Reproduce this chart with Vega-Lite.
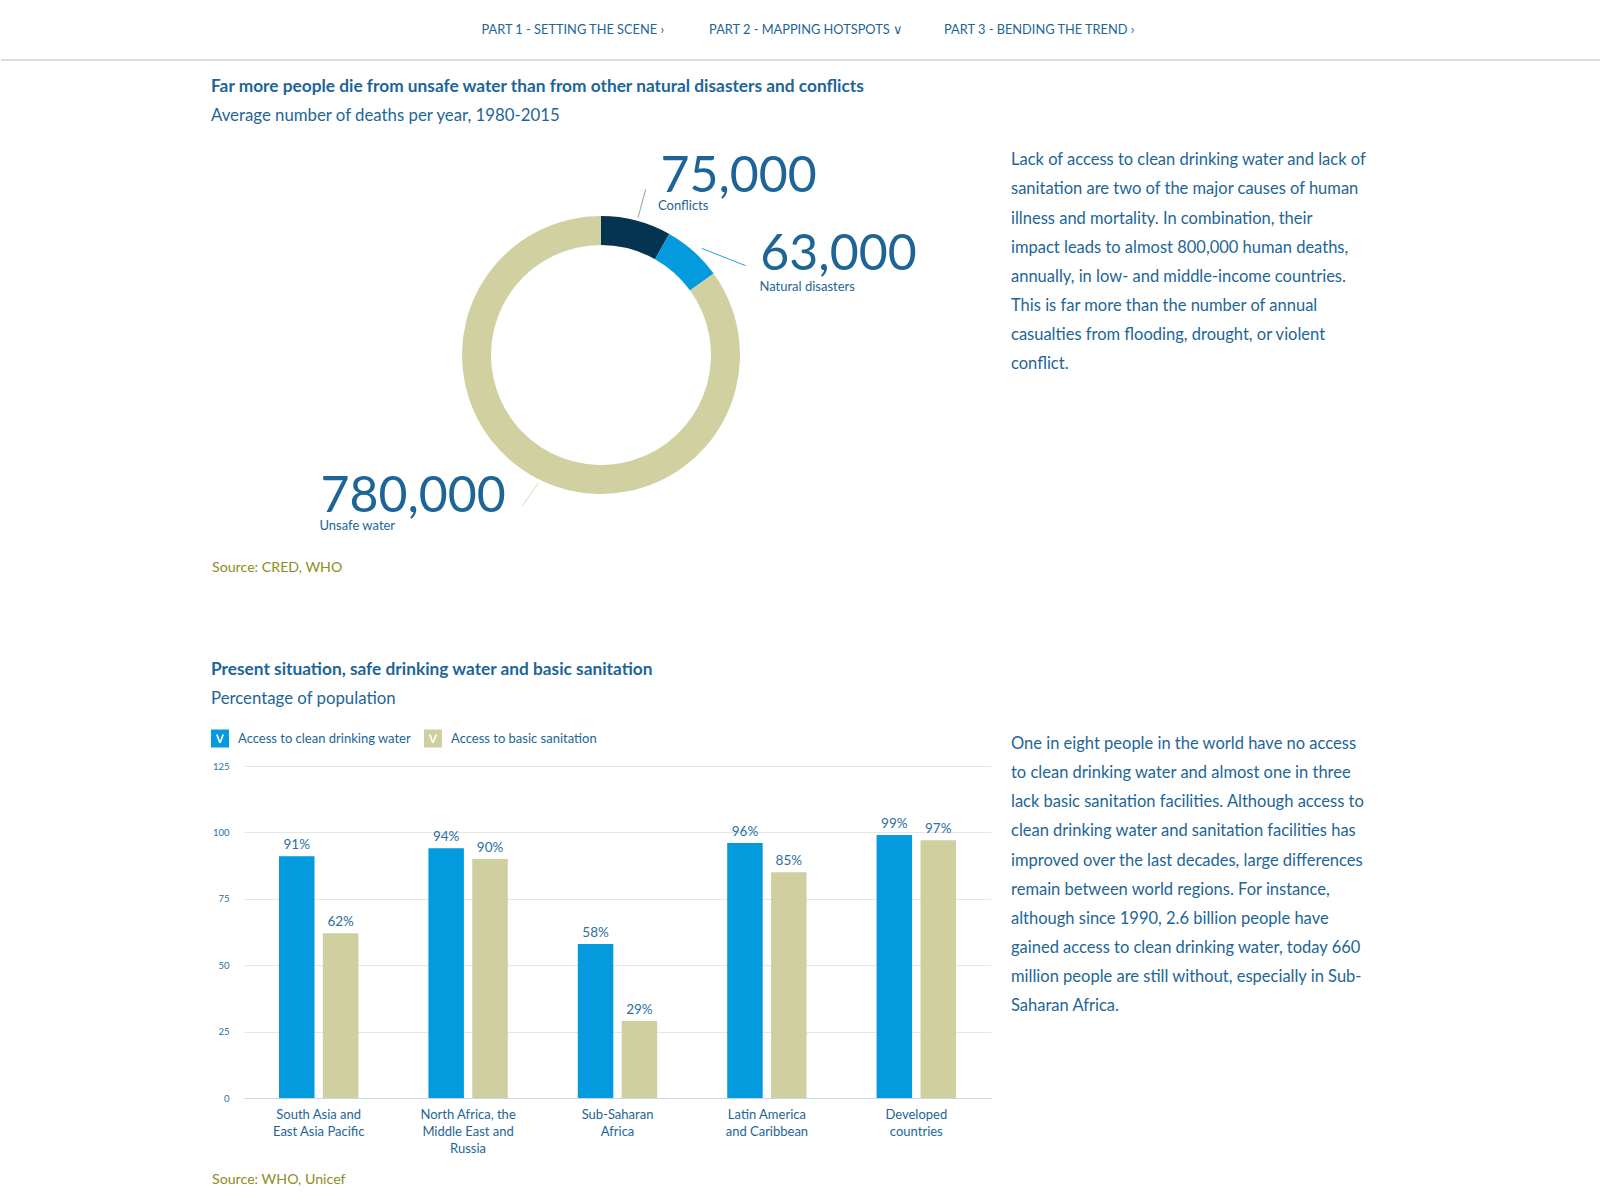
{
  "$schema": "https://vega.github.io/schema/vega-lite/v6.json",
  "background": "#ffffff",
  "padding": 0,
  "spacing": 16,
  "config": {
    "view": {"stroke": null},
    "font": "Lato",
    "axis": {"labelFont": "Lato"},
    "legend": {"labelFont": "Lato"},
    "title": {"font": "Lato", "subtitleFont": "Lato"}
  },
  "datasets": {
    "nav": [
      {"item": "PART 1 - SETTING THE SCENE  ›"},
      {"item": "PART 2 - MAPPING HOTSPOTS  ∨"},
      {"item": "PART 3 - BENDING THE TREND  ›"}
    ],
    "deaths": [
      {"cause": "Conflicts", "deaths": 75000},
      {"cause": "Natural disasters", "deaths": 63000},
      {"cause": "Unsafe water", "deaths": 780000}
    ],
    "access": [
      {"region": "South Asia and East Asia Pacific", "series": "Access to clean drinking water", "share": 0.91},
      {"region": "South Asia and East Asia Pacific", "series": "Access to basic sanitation", "share": 0.62},
      {"region": "North Africa, the Middle East and Russia", "series": "Access to clean drinking water", "share": 0.94},
      {"region": "North Africa, the Middle East and Russia", "series": "Access to basic sanitation", "share": 0.90},
      {"region": "Sub-Saharan Africa", "series": "Access to clean drinking water", "share": 0.58},
      {"region": "Sub-Saharan Africa", "series": "Access to basic sanitation", "share": 0.29},
      {"region": "Latin America and Caribbean", "series": "Access to clean drinking water", "share": 0.96},
      {"region": "Latin America and Caribbean", "series": "Access to basic sanitation", "share": 0.85},
      {"region": "Developed countries", "series": "Access to clean drinking water", "share": 0.99},
      {"region": "Developed countries", "series": "Access to basic sanitation", "share": 0.97}
    ],
    "para": [
      {"line": 0, "text": "Lack of access to clean drinking water and lack of"},
      {"line": 1, "text": "sanitation are two of the major causes of human"},
      {"line": 2, "text": "illness and mortality. In combination, their"},
      {"line": 3, "text": "impact leads to almost 800,000 human deaths,"},
      {"line": 4, "text": "annually, in low- and middle-income countries."},
      {"line": 5, "text": "This is far more than the number of annual"},
      {"line": 6, "text": "casualties from flooding, drought, or violent"},
      {"line": 7, "text": "conflict."},
      {"line": 20, "text": "One in eight people in the world have no access"},
      {"line": 21, "text": "to clean drinking water and almost one in three"},
      {"line": 22, "text": "lack basic sanitation facilities. Although access to"},
      {"line": 23, "text": "clean drinking water and sanitation facilities has"},
      {"line": 24, "text": "improved over the last decades, large differences"},
      {"line": 25, "text": "remain between world regions. For instance,"},
      {"line": 26, "text": "although since 1990, 2.6 billion people have"},
      {"line": 27, "text": "gained access to clean drinking water, today 660"},
      {"line": 28, "text": "million people are still without, especially in Sub-"},
      {"line": 29, "text": "Saharan Africa."}
    ]
  },
  "vconcat": [
    {
      "width": 1600,
      "height": 60,
      "data": {"name": "nav"},
      "layer": [
        {
          "mark": {"type": "text", "fontSize": 12.8, "color": "#1d6597", "baseline": "middle", "align": "center", "dx": 5},
          "encoding": {
            "x": {"field": "item", "type": "nominal", "sort": null, "scale": {"type": "point", "padding": 0.43, "domain": ["_a", "_b", "PART 1 - SETTING THE SCENE  ›", "PART 2 - MAPPING HOTSPOTS  ∨", "PART 3 - BENDING THE TREND  ›", "_c", "_d"]}, "axis": null},
            "text": {"field": "item"}
          }
        },
        {
          "mark": {"type": "rule", "color": "#dddddd", "strokeWidth": 2},
          "encoding": {"y": {"value": "height"}}
        }
      ]
    },
    {
      "hconcat": [
        {"width": 210, "height": 10, "data": {"values": []}, "mark": "point"},
        {
          "resolve": {"scale": {"color": "independent", "theta": "independent"}, "legend": {"color": "independent"}},
          "vconcat": [
            {
              "width": 714,
              "height": 410,
              "title": {
                "text": "Far more people die from unsafe water than from other natural disasters and conflicts",
                "subtitle": "Average number of deaths per year, 1980-2015",
                "anchor": "start",
                "frame": "group",
                "dx": -33,
                "fontSize": 17.3,
                "fontWeight": "bold",
                "color": "#1d6597",
                "subtitleFontSize": 16.8,
                "subtitleColor": "#1d6597",
                "subtitlePadding": 13,
                "offset": 25
              },
              "data": {"name": "deaths"},
              "encoding": {
                "theta": {"field": "deaths", "type": "quantitative", "stack": true},
                "order": {"field": "cause", "type": "nominal", "sort": "ascending"},
                "detail": {"field": "cause", "type": "nominal"}
              },
              "layer": [
                {
                  "mark": {"type": "arc", "innerRadius": 110, "outerRadius": 139},
                  "encoding": {
                    "color": {"field": "cause", "type": "nominal", "scale": {"domain": ["Conflicts", "Natural disasters", "Unsafe water"], "range": ["#04344f", "#039ade", "#d0d0a1"]}, "legend": null}
                  }
                },
                {
                  "mark": {"type": "text", "radius": 157, "align": "center", "baseline": "middle", "angle": -75, "fontWeight": 200, "color": "#04344f"},
                  "encoding": {
                    "text": {"condition": {"test": "datum.cause === 'Conflicts'", "value": "—"}, "value": ""},
                    "size": {"condition": {"test": "datum.cause === 'Conflicts'", "value": 46}, "value": 0}
                  }
                },
                {
                  "mark": {"type": "text", "radius": 155, "align": "center", "baseline": "middle", "angle": 21.8, "dx": 24.6, "dy": 8.2, "fontWeight": 200, "color": "#039ade"},
                  "encoding": {
                    "text": {"condition": {"test": "datum.cause === 'Natural disasters'", "value": "—"}, "value": ""},
                    "size": {"condition": {"test": "datum.cause === 'Natural disasters'", "value": 74}, "value": 0}
                  }
                },
                {
                  "mark": {"type": "text", "radius": 156, "align": "center", "baseline": "middle", "angle": -54.6, "fontWeight": 200, "color": "#b9b985"},
                  "encoding": {
                    "text": {"condition": {"test": "datum.cause === 'Unsafe water'", "value": "—"}, "value": ""},
                    "size": {"condition": {"test": "datum.cause === 'Unsafe water'", "value": 44}, "value": 0}
                  }
                },
                {
                  "mark": {"type": "text", "radius": 175, "align": "left", "baseline": "alphabetic", "dx": 15, "dy": 6, "color": "#1d6597"},
                  "encoding": {
                    "text": {"condition": {"test": "datum.cause === 'Conflicts'", "field": "deaths", "type": "quantitative", "format": ","}, "value": ""},
                    "size": {"condition": {"test": "datum.cause === 'Conflicts'", "value": 50}, "value": 0}
                  }
                },
                {
                  "mark": {"type": "text", "radius": 175, "align": "left", "baseline": "middle", "dx": 12.6, "dy": 19.8, "color": "#1d6597"},
                  "encoding": {
                    "text": {"condition": {"test": "datum.cause === 'Conflicts'", "field": "cause", "type": "nominal"}, "value": ""},
                    "size": {"condition": {"test": "datum.cause === 'Conflicts'", "value": 13}, "value": 0}
                  }
                },
                {
                  "mark": {"type": "text", "radius": 60, "align": "left", "baseline": "alphabetic", "dx": 119.4, "dy": -40.2, "color": "#1d6597"},
                  "encoding": {
                    "text": {"condition": {"test": "datum.cause === 'Natural disasters'", "field": "deaths", "type": "quantitative", "format": ","}, "value": ""},
                    "size": {"condition": {"test": "datum.cause === 'Natural disasters'", "value": 50}, "value": 0}
                  }
                },
                {
                  "mark": {"type": "text", "radius": 60, "align": "left", "baseline": "middle", "dx": 118.5, "dy": -23.2, "color": "#1d6597"},
                  "encoding": {
                    "text": {"condition": {"test": "datum.cause === 'Natural disasters'", "field": "cause", "type": "nominal"}, "value": ""},
                    "size": {"condition": {"test": "datum.cause === 'Natural disasters'", "value": 13}, "value": 0}
                  }
                },
                {
                  "mark": {"type": "text", "radius": 175, "align": "left", "baseline": "alphabetic", "dx": -200.9, "dy": 0.9, "color": "#1d6597"},
                  "encoding": {
                    "text": {"condition": {"test": "datum.cause === 'Unsafe water'", "field": "deaths", "type": "quantitative", "format": ","}, "value": ""},
                    "size": {"condition": {"test": "datum.cause === 'Unsafe water'", "value": 50}, "value": 0}
                  }
                },
                {
                  "mark": {"type": "text", "radius": 175, "align": "left", "baseline": "middle", "dx": -201.9, "dy": 15, "color": "#1d6597"},
                  "encoding": {
                    "text": {"condition": {"test": "datum.cause === 'Unsafe water'", "field": "cause", "type": "nominal"}, "value": ""},
                    "size": {"condition": {"test": "datum.cause === 'Unsafe water'", "value": 13}, "value": 0}
                  }
                }
              ]
            },
            {
              "width": 2,
              "height": 16,
              "data": {"values": [{"source": "Source: CRED, WHO"}]},
              "mark": {"type": "text", "align": "left", "baseline": "middle", "dx": -33, "fontSize": 14.2, "color": "#8c8d23"},
              "encoding": {"text": {"field": "source"}}
            },
            {"width": 10, "height": 85, "data": {"values": []}, "mark": "point"},
            {
              "width": 747,
              "height": 332,
              "title": {
                "text": "Present situation, safe drinking water and basic sanitation",
                "subtitle": "Percentage of population",
                "anchor": "start",
                "frame": "bounds",
                "fontSize": 17.3,
                "fontWeight": "bold",
                "color": "#1d6597",
                "subtitleFontSize": 16.8,
                "subtitleColor": "#1d6597",
                "subtitlePadding": 13,
                "offset": 21.5
              },
              "data": {"name": "access"},
              "encoding": {
                "x": {
                  "field": "region",
                  "type": "nominal",
                  "sort": null,
                  "scale": {"paddingInner": 0.4686, "paddingOuter": 0.2343},
                  "axis": {
                    "title": null,
                    "labelAngle": 0,
                    "labelFontSize": 13,
                    "labelColor": "#1d6597",
                    "labelLineHeight": 17,
                    "labelPadding": 10,
                    "ticks": false,
                    "domain": true,
                    "domainColor": "#cbd6ea",
                    "minExtent": 70,
                    "labelExpr": "datum.label === 'South Asia and East Asia Pacific' ? ['South Asia and', 'East Asia Pacific'] : datum.label === 'North Africa, the Middle East and Russia' ? ['North Africa, the', 'Middle East and', 'Russia'] : datum.label === 'Sub-Saharan Africa' ? ['Sub-Saharan', 'Africa'] : datum.label === 'Latin America and Caribbean' ? ['Latin America', 'and Caribbean'] : ['Developed', 'countries']"
                  }
                },
                "xOffset": {
                  "field": "series",
                  "type": "nominal",
                  "scale": {"domain": ["Access to clean drinking water", "Access to basic sanitation"], "paddingInner": 0.1913, "paddingOuter": 0}
                },
                "y": {
                  "field": "share",
                  "type": "quantitative",
                  "scale": {"domain": [0, 1.25], "nice": false},
                  "axis": {
                    "title": null,
                    "values": [0, 0.25, 0.5, 0.75, 1, 1.25],
                    "labelExpr": "format(datum.value * 100, 'd')",
                    "labelFontSize": 9.5,
                    "labelColor": "#2a6f9f",
                    "labelPadding": 15,
                    "ticks": false,
                    "domain": false,
                    "grid": true,
                    "gridColor": "#e6e6e6",
                    "minExtent": 33,
                    "maxExtent": 33
                  }
                }
              },
              "layer": [
                {
                  "mark": {"type": "bar"},
                  "encoding": {
                    "color": {
                      "field": "series",
                      "type": "nominal",
                      "scale": {"domain": ["Access to clean drinking water", "Access to basic sanitation"], "range": ["#039ade", "#d0cfa0"]},
                      "legend": {
                        "orient": "none",
                        "legendX": -33,
                        "legendY": -36.4,
                        "direction": "horizontal",
                        "title": null,
                        "symbolType": "M-1,-1L1,-1L1,1L-1,1Z M-0.45,-0.45L-0.1,0.5L0.1,0.5L0.45,-0.45L0.25,-0.45L0,0.25L-0.25,-0.45Z",
                        "symbolSize": 324,
                        "symbolStrokeWidth": 0,
                        "symbolOpacity": 1,
                        "labelFontSize": 13,
                        "labelColor": "#1d6597",
                        "labelOffset": 9,
                        "labelLimit": 400,
                        "columnPadding": 13,
                        "padding": 0
                      }
                    }
                  }
                },
                {
                  "mark": {"type": "text", "baseline": "alphabetic", "dy": -7, "fontSize": 13.5, "color": "#2a6f9f"},
                  "encoding": {"text": {"field": "share", "type": "quantitative", "format": ".0%"}}
                }
              ]
            },
            {
              "width": 2,
              "height": 24,
              "data": {"values": [{"source": "Source: WHO, Unicef"}]},
              "mark": {"type": "text", "align": "left", "baseline": "middle", "dx": -33, "fontSize": 14.2, "color": "#8c8d23"},
              "encoding": {"text": {"field": "source"}}
            }
          ],
          "spacing": 0
        },
        {
          "width": 40,
          "height": 1000,
          "data": {"name": "para"},
          "mark": {"type": "text", "align": "left", "baseline": "middle", "fontSize": 16.5, "color": "#1d6597"},
          "encoding": {
            "y": {"field": "line", "type": "quantitative", "scale": {"domain": [-0.35, 33.92], "reverse": true, "nice": false, "zero": false}, "axis": null},
            "text": {"field": "text"}
          }
        }
      ],
      "spacing": 0
    }
  ]
}
